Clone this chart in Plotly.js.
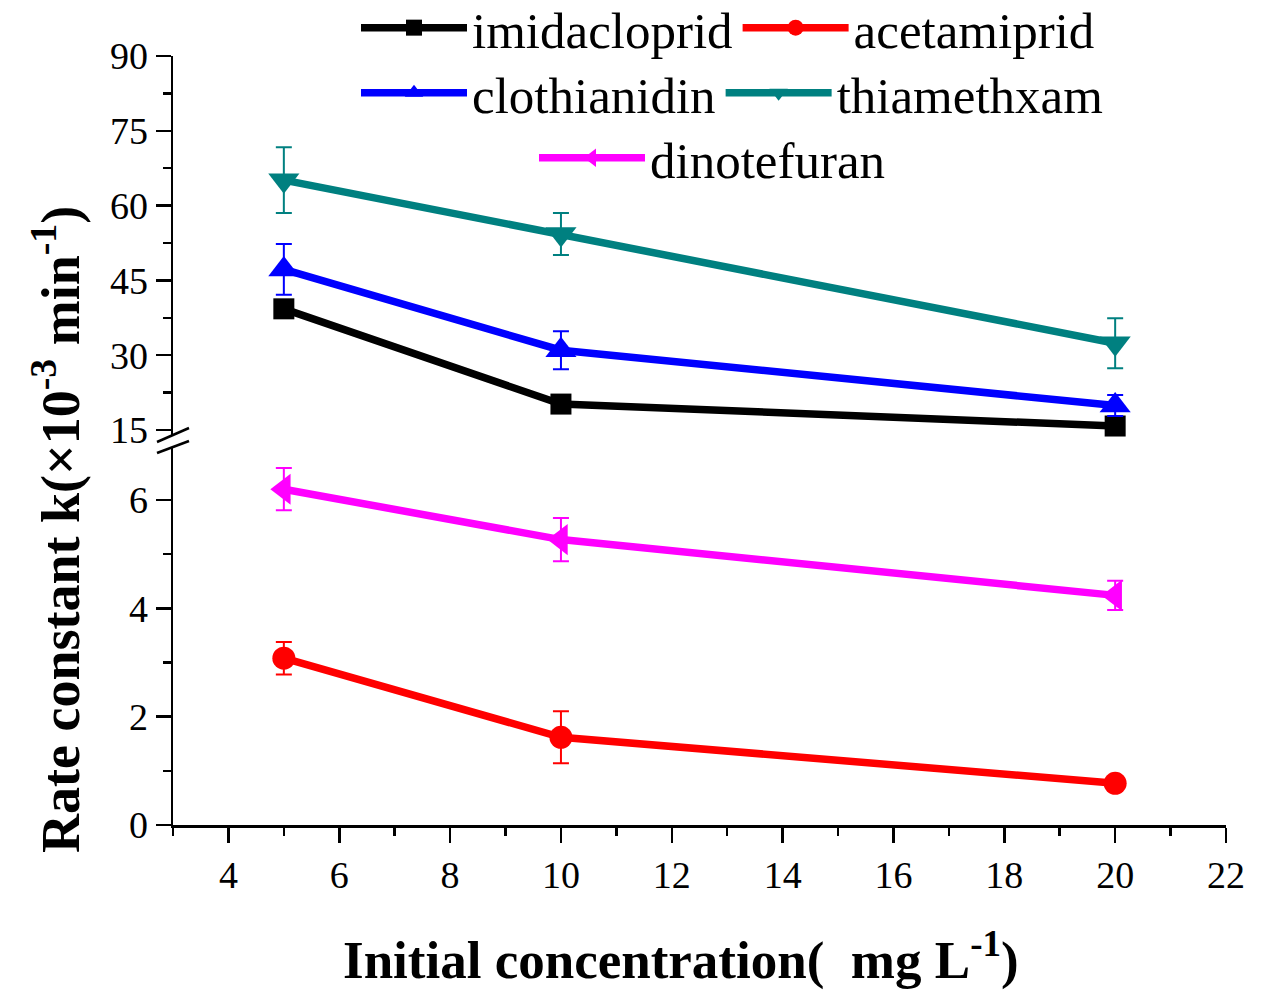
<!DOCTYPE html>
<html>
<head>
<meta charset="utf-8">
<script src="https://cdn.plot.ly/plotly-3.0.1.min.js"></script>
<style>html,body{margin:0;padding:0;background:#fff;}#chart{width:1264px;height:992px;}</style>
</head>
<body>
<div id="chart"></div>
<script>
// Data
var conc = [5, 10, 20];
var imidacloprid = [39.3, 20.2, 15.8];
var imidaclopridErr = [1.0, 1.0, 0.8];
var acetamiprid = [3.08, 1.62, 0.77];
var acetamipridErr = [0.30, 0.48, 0.05];
var clothianidin = [47.2, 31.0, 19.9];
var clothianidinErr = [5.1, 3.8, 2.1];
var thiamethxam = [65.1, 54.3, 32.4];
var thiamethxamErr = [6.6, 4.2, 5.0];
var dinotefuran = [6.20, 5.27, 4.24];
var dinotefuranErr = [0.39, 0.40, 0.27];

var xTicks = [4, 6, 8, 10, 12, 14, 16, 18, 20, 22];
var yLowTicks = [0, 2, 4, 6];
var yHighTicks = [15, 30, 45, 60, 75, 90];

var FONT = "Liberation Serif, Times New Roman, serif";

function mk(name, y, err, color, symbol, size, yaxis, legend) {
  return {
    type: 'scatter', mode: 'lines+markers', name: name,
    x: conc, y: y, yaxis: yaxis, legend: legend,
    line: {color: color, width: 7.5},
    marker: {color: color, symbol: symbol, size: size},
    error_y: {type: 'data', array: err, visible: true, color: color, thickness: 2, width: 8},
    cliponaxis: false
  };
}

var traces = [
  mk('imidacloprid', imidacloprid, imidaclopridErr, '#000000', 'square', 21, 'y2', 'legend'),
  mk('acetamiprid', acetamiprid, acetamipridErr, '#FF0000', 'circle', 23, 'y', 'legend'),
  mk('clothianidin', clothianidin, clothianidinErr, '#0000FF', 'triangle-up', 27, 'y2', 'legend2'),
  mk('thiamethxam', thiamethxam, thiamethxamErr, '#008080', 'triangle-down', 27, 'y2', 'legend2'),
  mk('dinotefuran', dinotefuran, dinotefuranErr, '#FF00FF', 'triangle-left', 27, 'y', 'legend3')
];

var axisCommon = {
  showline: true, linecolor: '#000', linewidth: 2.5,
  ticks: 'outside', ticklen: 15, tickwidth: 2.5, tickcolor: '#000',
  showgrid: false, zeroline: false,
  tickfont: {family: FONT, size: 38, color: '#000'}
};

var H = 769; // plot height in px (825-56)
var legendCommon = {
  orientation: 'h', xref: 'container', yref: 'container',
  xanchor: 'left', yanchor: 'middle',
  bgcolor: 'rgba(0,0,0,0)', borderwidth: 0, itemwidth: 106,
  font: {family: FONT, size: 51, color: '#000'},
  itemclick: false, itemdoubleclick: false
};

var layout = {
  width: 1264, height: 992,
  margin: {l: 173, r: 38, t: 56, b: 167, autoexpand: false},
  paper_bgcolor: '#fff', plot_bgcolor: '#fff',
  showlegend: true,
  xaxis: Object.assign({}, axisCommon, {
    range: [3, 22], tickvals: xTicks, anchor: 'y', automargin: false,
    minor: {dtick: 1, tick0: 3, ticks: 'outside', ticklen: 8, tickwidth: 2.5, tickcolor: '#000', showgrid: false}
  }),
  yaxis: Object.assign({}, axisCommon, {
    domain: [0, (825 - 447) / H], range: [0, 6.98], tickvals: yLowTicks, anchor: 'x', automargin: false,
    minor: {dtick: 1, tick0: 0, ticks: 'outside', ticklen: 8, tickwidth: 2.5, tickcolor: '#000', showgrid: false}
  }),
  yaxis2: Object.assign({}, axisCommon, {
    domain: [(825 - 435) / H, 1], range: [14.0, 90], tickvals: yHighTicks, anchor: 'x', automargin: false,
    minor: {dtick: 7.5, tick0: 0, ticks: 'outside', ticklen: 8, tickwidth: 2.5, tickcolor: '#000', showgrid: false}
  }),
  legend: Object.assign({}, legendCommon, {x: 356 / 1264, y: 1 - 28 / 992}),
  legend2: Object.assign({}, legendCommon, {x: 356 / 1264, y: 1 - 93 / 992}),
  legend3: Object.assign({}, legendCommon, {x: 534 / 1264, y: 1 - 158 / 992}),
  shapes: [
    {type: 'line', xref: 'paper', yref: 'paper', x0: (157 - 173) / 1053, x1: (189 - 173) / 1053,
     y0: (825 - 442) / H, y1: (825 - 428) / H, line: {color: '#000', width: 2.5}},
    {type: 'line', xref: 'paper', yref: 'paper', x0: (157 - 173) / 1053, x1: (189 - 173) / 1053,
     y0: (825 - 453) / H, y1: (825 - 441) / H, line: {color: '#000', width: 2.5}}
  ],
  annotations: [
    {text: 'Rate constant k(\u00d710<sup>-3</sup> min<sup>-1</sup>)', xref: 'paper', yref: 'paper',
     x: (56 - 173) / 1053, y: (825 - 530) / H, xanchor: 'center', yanchor: 'middle', textangle: -90,
     showarrow: false, font: {family: FONT, size: 54, color: '#000', weight: 'bold'}},
    {text: 'Initial concentration(\u00a0 mg L<sup>-1</sup>)', xref: 'paper', yref: 'paper',
     x: (681 - 173) / 1053, y: (825 - 956) / H, xanchor: 'center', yanchor: 'middle',
     showarrow: false, font: {family: FONT, size: 53, color: '#000', weight: 'bold'}}
  ]
};

Plotly.newPlot('chart', traces, layout, {displayModeBar: false, staticPlot: true});
</script>
</body>
</html>
